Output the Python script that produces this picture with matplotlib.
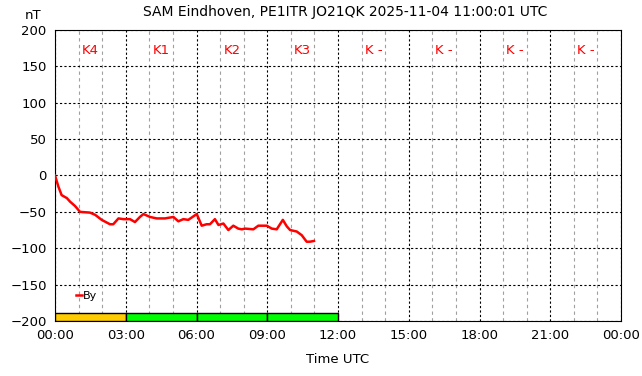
import matplotlib
matplotlib.use("Agg")
import matplotlib.pyplot as plt
from matplotlib.ticker import MultipleLocator

# By component (nT) vs hours UTC
hours = [0.0, 0.14, 0.28, 0.5, 0.64, 0.85, 1.06, 1.48, 1.7, 1.98, 2.33, 2.47,
         2.69, 2.9, 3.18, 3.39, 3.6, 3.75, 4.03, 4.31, 4.66, 5.02, 5.23, 5.44,
         5.65, 6.01, 6.22, 6.43, 6.57, 6.78, 6.93, 7.14, 7.35, 7.56, 7.77,
         7.92, 8.06, 8.41, 8.62, 8.98, 9.19, 9.4, 9.66, 9.83, 9.97, 10.25,
         10.46, 10.67, 10.81, 10.98]
by_nt = [0, -15, -27, -31, -36, -42, -50, -51, -54, -61, -67, -67,
         -59, -60, -60, -64, -57, -53, -57, -59, -59, -57, -63, -60,
         -61, -53, -69, -67, -67, -60, -68, -66, -75, -69, -73,
         -74, -73, -74, -69, -69, -73, -74, -61, -70, -75, -77,
         -82, -91, -91, -90]

# K index per 3-hour block
k_labels = ["K4", "K1", "K2", "K3", "K -", "K -", "K -", "K -"]
k_colors = ["#ffcc00", "#00ff00", "#00ff00", "#00ff00"]

x_ticks = [0, 3, 6, 9, 12, 15, 18, 21, 24]
x_ticklabels = ["00:00", "03:00", "06:00", "09:00", "12:00", "15:00",
                "18:00", "21:00", "00:00"]

plt.rcParams["font.family"] = "DejaVu Sans"
plt.rcParams["font.size"] = 8

fig = plt.figure(figsize=(6.42, 3.76), dpi=100)
ax = fig.add_axes([0.0857, 0.1463, 0.8816, 0.7739])

ax.set_xlim(0, 24)
ax.set_ylim(-200, 200)

# grid: minor grey every hour, major black every 3 h / 50 nT
ax.xaxis.set_minor_locator(MultipleLocator(1))
ax.grid(which="minor", axis="x", color="#a0a0a0", linestyle=(0, (3, 3)),
        linewidth=0.8)
ax.grid(which="major", color="black", linestyle=(0, (2, 2)), linewidth=0.8)
ax.set_xticks(x_ticks)
ax.set_xticklabels(x_ticklabels)
ax.set_yticks(range(-200, 201, 50))
ax.tick_params(which="both", length=0, pad=6, labelsize=9.5)
ax.set_axisbelow(True)

# K-index bars at bottom
for i, c in enumerate(k_colors):
    ax.bar(i * 3, 11, width=3, bottom=-200, align="edge", color=c,
           edgecolor="black", linewidth=1.0, zorder=3)

for i, lab in enumerate(k_labels):
    ax.text(i * 3 + 1.5, 172, lab, color="red", ha="center", va="center",
            fontsize=9.5)

ax.plot(hours, by_nt, color="red", linewidth=1.8, label="By", zorder=4)
leg = ax.legend(loc="lower left", bbox_to_anchor=(0.02, 0.035), frameon=False,
                handlelength=0.5, handletextpad=0.1, fontsize=8)

ax.set_xlabel("Time UTC", fontsize=9.5, labelpad=8)
fig.text(0.052, 0.958, "nT", ha="center", va="center", fontsize=9.5)
fig.text(0.537, 0.968, "SAM Eindhoven, PE1ITR JO21QK 2025-11-04 11:00:01 UTC",
         ha="center", va="center", fontsize=10)

fig.savefig("out.png", dpi=100)
